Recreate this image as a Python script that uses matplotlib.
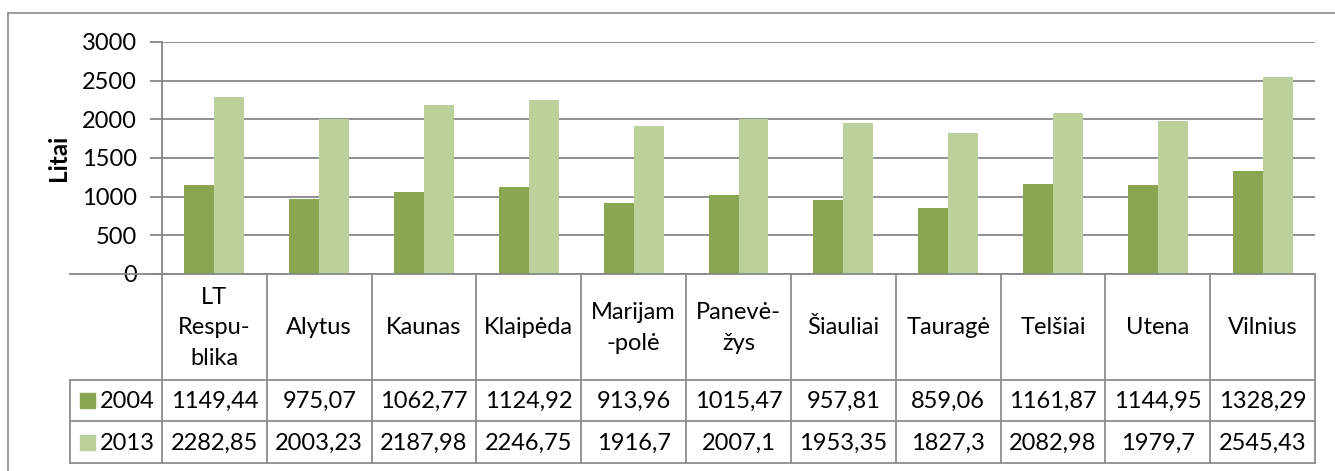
import matplotlib
matplotlib.use("Agg")
import matplotlib.pyplot as plt
from matplotlib.patches import Rectangle

categories = ["LT\nRespu-\nblika", "Alytus", "Kaunas", "Klaipėda", "Marijam\n-polė",
              "Panevė-\nžys", "Šiauliai", "Tauragė", "Telšiai", "Utena", "Vilnius"]
series_names = ["2004", "2013"]
values_2004 = [1149.44, 975.07, 1062.77, 1124.92, 913.96, 1015.47, 957.81, 859.06, 1161.87, 1144.95, 1328.29]
values_2013 = [2282.85, 2003.23, 2187.98, 2246.75, 1916.7, 2007.1, 1953.35, 1827.3, 2082.98, 1979.7, 2545.43]
labels_2004 = ["1149,44", "975,07", "1062,77", "1124,92", "913,96", "1015,47", "957,81", "859,06", "1161,87", "1144,95", "1328,29"]
labels_2013 = ["2282,85", "2003,23", "2187,98", "2246,75", "1916,7", "2007,1", "1953,35", "1827,3", "2082,98", "1979,7", "2545,43"]
yticks = [0, 500, 1000, 1500, 2000, 2500, 3000]
ylabel = "Litai"

colors = ["#8BA650", "#BBD09A"]
grid_c = "#878787"
FONT = ["Lato", "DejaVu Sans"]
FS = 17

W, H = 1335, 471
fig = plt.figure(figsize=(W / 100, H / 100), dpi=100)
fig.patch.set_facecolor("white")

def fx(px):
    return px / W

def fy(py):
    return 1 - py / H

# outer chart border
fig.add_artist(plt.Line2D([fx(8), fx(8)], [fy(13), fy(471)], color="#8c8c8c", lw=1.2))
fig.add_artist(plt.Line2D([fx(8), fx(1335)], [fy(13), fy(13)], color="#8c8c8c", lw=1.2))

L, R, T, B = 162, 1315, 42, 274
ax = fig.add_axes([fx(L), fy(B), fx(R) - fx(L), fy(T) - fy(B)])
n = len(categories)
x = list(range(n))
bw = 0.286
ax.bar([i - bw / 2 for i in x], values_2004, width=bw, color=colors[0], zorder=3)
ax.bar([i + bw / 2 for i in x], values_2013, width=bw, color=colors[1], zorder=3)
ax.set_xlim(-0.5, n - 0.5)
ax.set_ylim(0, 3000)
ax.set_yticks(yticks)
ax.set_yticklabels([str(v) for v in yticks], fontfamily=FONT, fontsize=FS)
ax.set_xticks([])
ax.yaxis.grid(True, color=grid_c, lw=1.3, zorder=0)
ax.tick_params(axis="y", length=9, width=1.3, color=grid_c, pad=9)
for s in ["top", "right", "bottom"]:
    ax.spines[s].set_visible(False)
ax.spines["left"].set_color(grid_c)
ax.spines["left"].set_linewidth(1.3)
ax.set_ylabel(ylabel, fontfamily=FONT, fontsize=FS + 0.5, fontweight="bold")
ax.yaxis.set_label_coords((58 - L) / (R - L), 0.5)
ax.yaxis.label.set_va("center")
ax.patch.set_alpha(0)

# data table
TL = 70
TB = 463
row1, row2 = 380, 421
extra = (L - TL) / ((R - L) / n)
tab = fig.add_axes([fx(TL), fy(TB), fx(R) - fx(TL), fy(B) - fy(TB)])
tab.set_xlim(-0.5 - extra, n - 0.5)
tab.set_ylim(TB, B)
tab.axis("off")
lc = "#8c8c8c"
lw = 1.3
tab.plot([-0.5 - extra, n - 0.5], [B, B], color=grid_c, lw=lw, clip_on=False)
for yy in [row1, row2, TB]:
    tab.plot([-0.5 - extra, n - 0.5], [yy, yy], color=lc, lw=lw, clip_on=False)
for i in range(n + 1):
    tab.plot([i - 0.5, i - 0.5], [B, TB], color=lc, lw=lw, clip_on=False)
tab.plot([-0.5 - extra, -0.5 - extra], [row1, TB], color=lc, lw=lw, clip_on=False)

for i, c in enumerate(categories):
    tab.text(i, (B + row1) / 2 + 1, c, ha="center", va="center", fontfamily=FONT,
             fontsize=FS, linespacing=1.58)
    tab.text(i, (row1 + row2) / 2 + 1, labels_2004[i], ha="center", va="center",
             fontfamily=FONT, fontsize=FS)
    tab.text(i, (row2 + TB) / 2 + 1, labels_2013[i], ha="center", va="center",
             fontfamily=FONT, fontsize=FS)

unit = (R - L) / n
for k, (name, col) in enumerate(zip(series_names, colors)):
    y0, y1 = [(row1, row2), (row2, TB)][k]
    cy = (y0 + y1) / 2
    sx = -0.5 - extra + (80 - TL) / unit
    sw = 15 / unit
    tab.add_patch(Rectangle((sx, cy - 7.5), sw, 15, color=col, clip_on=False))
    tab.text(-0.5 - extra + (100 - TL) / unit, cy + 1, name, ha="left", va="center",
             fontfamily=FONT, fontsize=FS)

fig.savefig("out.png", dpi=100, facecolor="white")
